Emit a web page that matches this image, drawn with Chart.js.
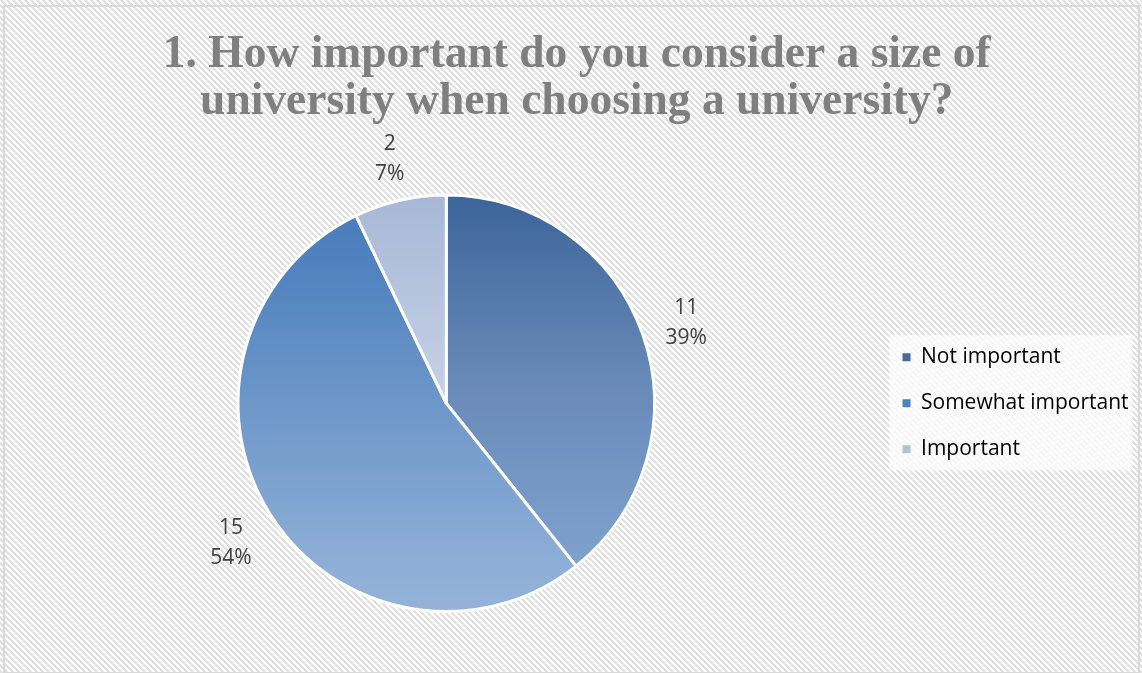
<!DOCTYPE html>
<html>
<head>
<meta charset="utf-8">
<script src="https://cdn.jsdelivr.net/npm/chart.js@4/dist/chart.umd.min.js"></script>
<style>
  html, body { margin: 0; padding: 0; background: #fff; }
  #wrap { width: 1142px; height: 673px; position: relative; }
</style>
</head>
<body>
<div id="wrap"><canvas id="c"></canvas></div>
<script>
// ---- data ----
const categories = ['Not important', 'Somewhat important', 'Important'];
const counts = [11, 15, 2];
const titleLines = ['1. How important do you consider a size of', 'university when choosing a university?'];

// ---- styles ----
const legendColors = ['#46699e', '#4f81bd', '#b2c0db'];
const sliceGradients = [
  [[0, '#3c6499'], [0.47, '#6a8bba'], [0.87, '#7ea1cc'], [1, '#82a5cf']],
  [[0, '#497aba'], [0.18, '#5183bf'], [0.47, '#6b95c8'], [0.87, '#8cadd6'], [1, '#95b3d9']],
  [[0, '#a7b7d6'], [0.49, '#c6d1e5'], [1, '#d0d9ea']]
];

function sliceColor(context) {
  const chart = context.chart;
  const area = chart.chartArea;
  const i = context.dataIndex;
  if (!area) return legendColors[i];
  const g = chart.ctx.createLinearGradient(0, area.top, 0, area.bottom);
  sliceGradients[i].forEach(([p, c]) => g.addColorStop(p, c));
  return g;
}

const backgroundPlugin = {
  id: 'hatchBackground',
  beforeDraw(chart) {
    const { ctx, width, height } = chart;
    const tile = document.createElement('canvas');
    tile.width = 6; tile.height = 6;
    const t = tile.getContext('2d');
    t.fillStyle = '#ffffff';
    t.fillRect(0, 0, 6, 6);
    t.fillStyle = '#e1e1e1';
    for (let yy = 0; yy < 6; yy++) {
      for (let k = 0; k < 3; k++) t.fillRect((yy + k) % 6, yy, 1, 1);
    }
    ctx.save();
    ctx.fillStyle = ctx.createPattern(tile, 'repeat');
    ctx.fillRect(0, 0, width, height);
    ctx.strokeStyle = '#d9d9d9';
    ctx.lineWidth = 2;
    ctx.strokeRect(4, 6, width - 7, height - 6);
    // legend backdrop
    const lg = chart.legend;
    if (lg) {
      const cy = (lg.top + lg.bottom) / 2;
      ctx.fillStyle = 'rgba(255,255,255,0.7)';
      ctx.fillRect(lg.left + 12, cy - 68, lg.width - 18, 135);
    }
    ctx.restore();
  }
};

const labelPlugin = {
  id: 'outsideLabels',
  afterDatasetsDraw(chart) {
    const ctx = chart.ctx;
    const meta = chart.getDatasetMeta(0);
    const values = chart.data.datasets[0].data;
    const total = values.reduce((a, b) => a + b, 0);
    ctx.save();
    ctx.font = '21px "Open Sans"';
    ctx.fillStyle = '#404040';
    ctx.textAlign = 'center';
    ctx.textBaseline = 'middle';
    meta.data.forEach((arc, i) => {
      const p = arc.getProps(['x', 'y', 'startAngle', 'endAngle', 'outerRadius'], true);
      const mid = (p.startAngle + p.endAngle) / 2;
      const r = p.outerRadius + 46;
      const cx = p.x + Math.cos(mid) * r;
      const cy = p.y + Math.sin(mid) * r + 4;
      ctx.fillText(String(values[i]), cx, cy - 15);
      ctx.fillText(Math.round(values[i] / total * 100) + '%', cx, cy + 15);
    });
    ctx.restore();
  }
};

function make() {
  new Chart(document.getElementById('c'), {
    type: 'pie',
    data: {
      labels: categories,
      datasets: [{
        data: counts,
        backgroundColor: sliceColor,
        borderColor: '#ffffff',
        borderWidth: 3
      }]
    },
    options: {
      responsive: true,
      maintainAspectRatio: false,
      animation: false,
      devicePixelRatio: 1,
      layout: { padding: { left: 15, right: 3.5, top: 0, bottom: 60 } },
      plugins: {
        tooltip: { enabled: false },
        title: {
          display: true,
          text: titleLines,
          color: '#7f7f7f',
          font: { family: '"Liberation Serif"', weight: 'bold', size: 45.5, lineHeight: 1.05 },
          padding: { top: 31, bottom: 67 }
        },
        legend: {
          position: 'right',
          fullSize: false,
          labels: {
            boxWidth: 8,
            boxHeight: 8,
            padding: 25,
            color: '#595959',
            font: { family: '"Open Sans"', size: 21 },
            generateLabels(chart) {
              return categories.map((c, i) => ({
                text: c,
                fillStyle: legendColors[i],
                strokeStyle: legendColors[i],
                lineWidth: 0,
                hidden: false,
                index: i
              }));
            }
          }
        }
      }
    },
    plugins: [backgroundPlugin, labelPlugin]
  });
}

Promise.all([
  document.fonts.load('bold 45px "Liberation Serif"'),
  document.fonts.load('21px "Open Sans"')
]).then(make, make);
</script>
</body>
</html>
